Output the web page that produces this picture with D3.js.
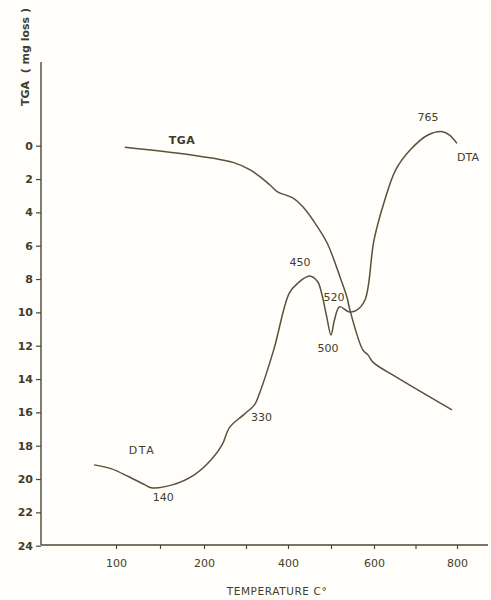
<!DOCTYPE html>
<html>
<head>
<meta charset="utf-8">
<script src="https://cdn.jsdelivr.net/npm/d3@7"></script>
<style>
  html, body { margin: 0; padding: 0; background: #fffefa; }
  svg { display: block; }
  text { font-family: "DejaVu Sans", "Liberation Sans", sans-serif; fill: #3f3d2b; }
</style>
</head>
<body>
<svg id="chart" width="491" height="600"></svg>
<script>
// Temperature axis: break points of the (non-uniform) printed scale
const xKnots = [100, 200, 400, 600, 800];
const xTickValues = [100, 150, 200, 300, 400, 500, 600, 700, 800];
const xTickLabels = ["100", "", "200", "", "400", "", "600", "", "800"];

// TGA axis (mg loss), increasing downwards
const yTicks = [0, 2, 4, 6, 8, 10, 12, 14, 16, 18, 20, 22, 24];

// TGA curve: temperature (°C) and weight loss (mg)
const tgaTemp = [110, 184, 269, 310, 333, 357, 376, 412, 435, 458, 491, 521, 537, 544, 574, 586, 598, 655, 788];
const tgaLoss = [0.1, 0.55, 1.0, 1.45, 1.86, 2.36, 2.78, 3.14, 3.68, 4.46, 5.84, 7.88, 9.08, 9.86, 12.25, 12.55, 13.0, 13.9, 15.85];

// DTA curve: temperature (°C) and trace level in the same plot units
const dtaTemp = [75, 95, 114, 133, 140, 164, 189, 217, 243, 261, 294, 320, 330, 366, 403, 423, 450, 469, 478, 490, 500, 508, 520, 541, 558, 579, 600, 626, 652, 687, 730, 765, 782, 800];
const dtaValue = [19.15, 19.39, 19.85, 20.35, 20.52, 20.35, 19.75, 18.85, 17.95, 16.9, 16.15, 15.55, 15.0, 12.25, 8.84, 8.24, 7.82, 8.16, 8.84, 10.26, 11.36, 10.46, 9.66, 9.96, 9.9, 9.26, 5.66, 3.26, 1.46, 0.26, -0.64, -0.84, -0.64, -0.14];

// Annotated DTA peak temperatures
const peakTemps = [140, 330, 450, 500, 520, 765];

const svg = d3.select("#chart");
const ink = "#4a4834";

const x = d3.scaleLinear().domain(xKnots).range([116, 204, 288, 374, 457]);
const y = d3.scaleLinear().domain([0, 24]).range([145.7, 545.7]);

// Axis frame
const axisLeftX = 41, axisTopY = 62, axisBottomY = 545, axisRightX = 488;

// Y axis
const gy = svg.append("g").attr("transform", `translate(${axisLeftX},0)`)
  .call(d3.axisLeft(y).tickValues(yTicks).tickSize(5).tickPadding(3).tickFormat(d3.format("d")));
gy.select(".domain").remove();
gy.selectAll(".tick line").attr("stroke", ink).attr("stroke-width", 1.2);
gy.selectAll(".tick text").style("font-size", "11px").style("font-weight", "bold").attr("fill", "#3f3d2b");
svg.append("line").attr("x1", axisLeftX).attr("x2", axisLeftX).attr("y1", axisTopY).attr("y2", axisBottomY)
  .attr("stroke", ink).attr("stroke-width", 1.4);

// X axis
const gx = svg.append("g").attr("transform", `translate(0,${axisBottomY})`)
  .call(d3.axisBottom(x).tickValues(xTickValues).tickSize(4).tickPadding(10)
    .tickFormat((d, i) => xTickLabels[i]));
gx.select(".domain").remove();
gx.selectAll(".tick line").attr("stroke", ink).attr("stroke-width", 1.2);
gx.selectAll(".tick text").style("font-size", "11px").attr("fill", "#3f3d2b");
svg.append("line").attr("x1", axisLeftX).attr("x2", axisRightX).attr("y1", axisBottomY).attr("y2", axisBottomY)
  .attr("stroke", ink).attr("stroke-width", 1.4);

// Axis titles
svg.append("text")
  .attr("transform", "translate(26,57) rotate(-90)")
  .attr("text-anchor", "middle").attr("dominant-baseline", "middle")
  .style("font-size", "11px").style("font-weight", "bold").style("white-space", "pre")
  .text("TGA  ( mg loss )");

svg.append("text").attr("x", 277).attr("y", 595).attr("text-anchor", "middle")
  .style("font-size", "10.5px").style("letter-spacing", "0.6px")
  .text("TEMPERATURE  C°");

// Curves
const line = d3.line().x(d => x(d[0])).y(d => y(d[1])).curve(d3.curveCatmullRom.alpha(0.5));

svg.append("path").datum(d3.zip(tgaTemp, tgaLoss)).attr("d", line)
  .attr("fill", "none").attr("stroke", "#55533b").attr("stroke-width", 1.5);
svg.append("path").datum(d3.zip(dtaTemp, dtaValue)).attr("d", line)
  .attr("fill", "none").attr("stroke", "#55533b").attr("stroke-width", 1.5);

// Curve names
svg.append("text").attr("x", 182).attr("y", 144).attr("text-anchor", "middle")
  .style("font-size", "11px").style("font-weight", "bold").style("letter-spacing", "0.5px").text("TGA");
svg.append("text").attr("x", 142).attr("y", 454).attr("text-anchor", "middle")
  .style("font-size", "11px").style("letter-spacing", "1.5px").text("DTA");
svg.append("text").attr("x", 468).attr("y", 161).attr("text-anchor", "middle")
  .style("font-size", "11px").text("DTA");

// Peak temperature labels, positioned relative to their point on the DTA trace
const dtaAt = t => dtaValue[dtaTemp.indexOf(t)];
const labelOffsets = { 140: [12, 10], 330: [3, 22], 450: [-9.5, -13], 500: [-3, 14], 520: [-5.6, -9], 765: [-14.5, -14] };
svg.append("g").selectAll("text").data(peakTemps).join("text")
  .attr("x", d => x(d) + labelOffsets[d][0])
  .attr("y", d => y(dtaAt(d)) + labelOffsets[d][1])
  .attr("text-anchor", "middle").attr("dominant-baseline", "middle")
  .style("font-size", "11px")
  .text(d => d);
</script>
</body>
</html>
